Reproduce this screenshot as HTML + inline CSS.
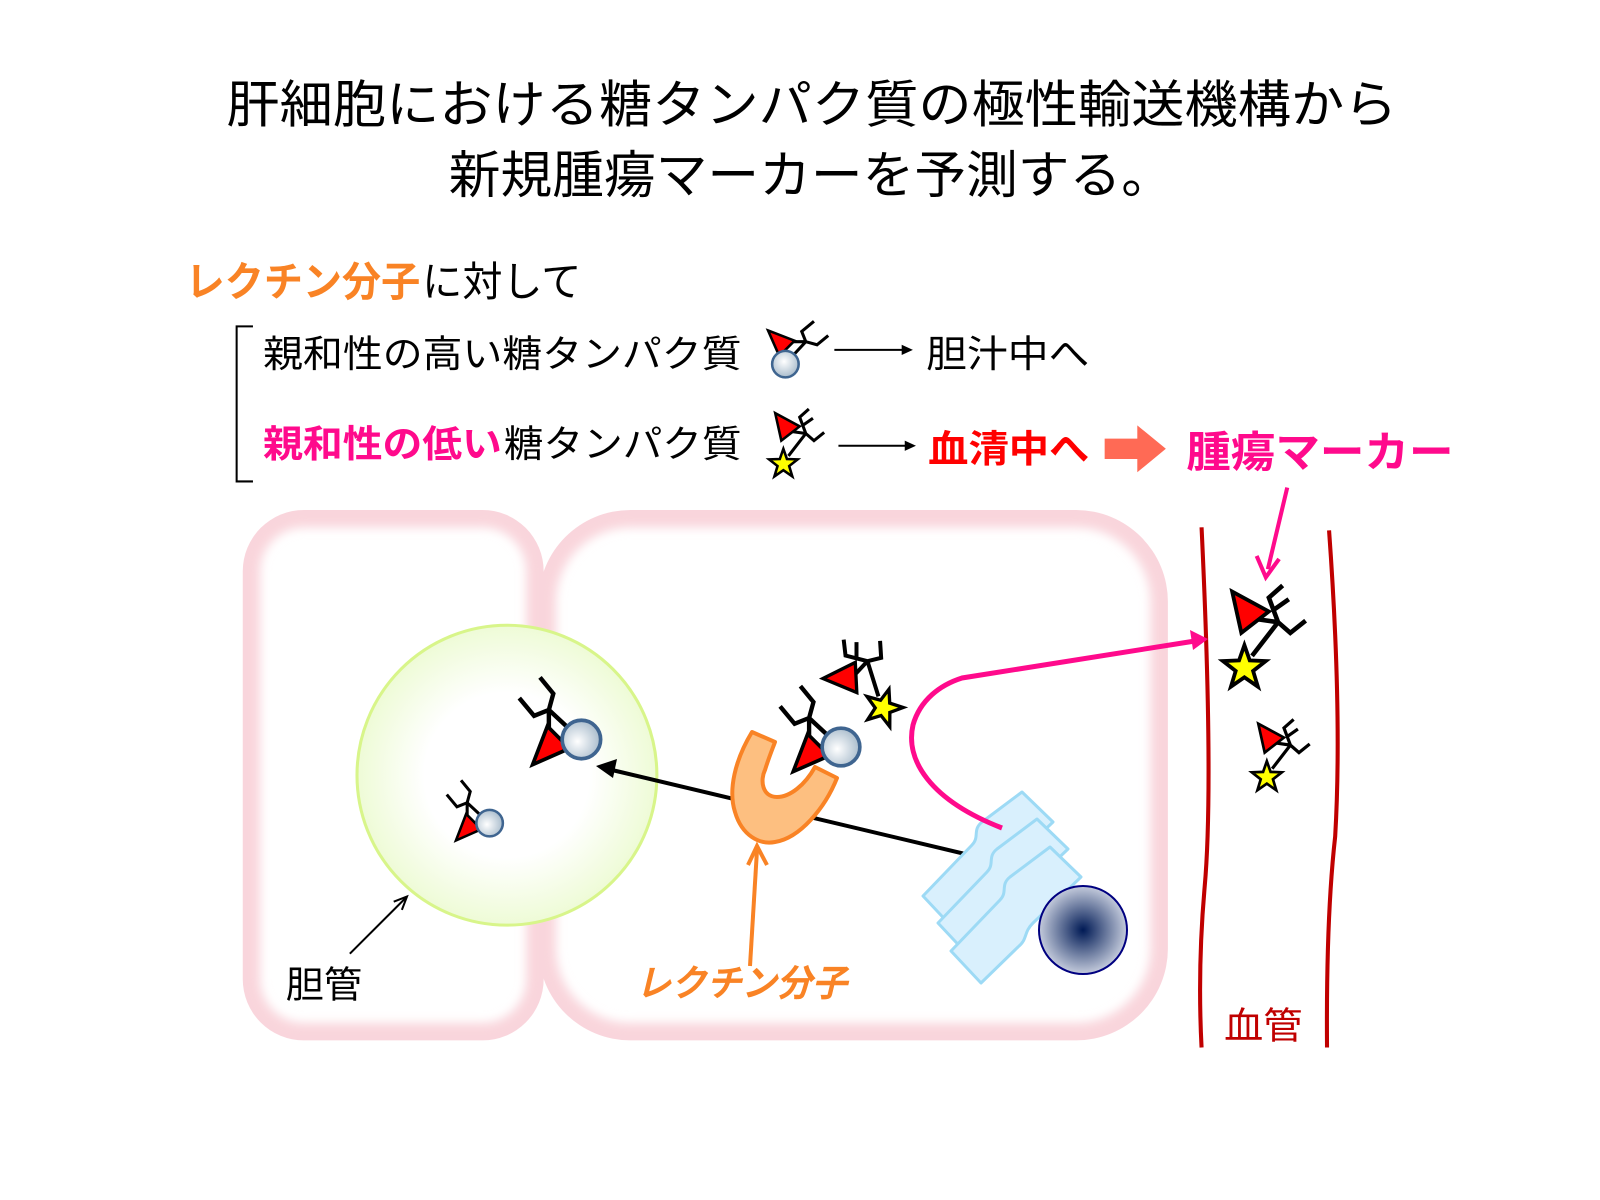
<!DOCTYPE html>
<html><head><meta charset="utf-8">
<style>
html,body{margin:0;padding:0;background:#fff;}
svg{display:block;}
text{font-family:"Liberation Sans","Noto Sans CJK JP",sans-serif;}
</style></head>
<body>
<svg width="1600" height="1200" viewBox="0 0 1600 1200" xmlns="http://www.w3.org/2000/svg">
<defs>
  <radialGradient id="bead" cx="45%" cy="40%" r="60%">
    <stop offset="0" stop-color="#ffffff"/><stop offset="1" stop-color="#a9bccc"/>
  </radialGradient>
  <radialGradient id="bile" cx="50%" cy="50%" r="50%">
    <stop offset="0.55" stop-color="#ffffff"/><stop offset="1" stop-color="#eefbd6"/>
  </radialGradient>
  <radialGradient id="nuc" cx="50%" cy="50%" r="50%">
    <stop offset="0" stop-color="#001a55"/><stop offset="1" stop-color="#c4cbdc"/>
  </radialGradient>
  <filter id="blur" x="-10%" y="-10%" width="120%" height="120%"><feGaussianBlur stdDeviation="5"/></filter>
  <clipPath id="c1"><rect x="238" y="500" width="295" height="520" rx="60"/></clipPath>
  <clipPath id="c2"><rect x="528" y="500" width="617" height="520" rx="90"/></clipPath>
  <g id="gc">
    <path d="M7,-8 L20,-22 M20,-22 L16,-32 L28,-42 M20,-22 L31,-19 L42,-28 M20,-22 L4,-22" stroke="#000" stroke-width="3" fill="none"/>
    <polygon points="-17,-33 9,-23 -6,-8" fill="#f00" stroke="#000" stroke-width="2.5"/>
    <circle cx="0" cy="0" r="13" fill="url(#bead)" stroke="#3f6590" stroke-width="2.5"/>
  </g>
  <g id="gs">
    <path d="M5,-8 L22,-30 L16,-46 L25,-54 M19,-38 L29,-45 M22,-30 L30,-23 L40,-31 M22,-30 L8,-32" stroke="#000" stroke-width="3" fill="none"/>
    <polygon points="-8,-50 16,-37 -2,-23" fill="#f00" stroke="#000" stroke-width="2.5"/>
    <polygon points="0,-15 3.5,-5 14,-4.6 5.7,1.9 8.8,12.1 0,6 -8.8,12.1 -5.7,1.9 -14,-4.6 -3.5,-5" fill="#ff0" stroke="#000" stroke-width="2.5"/>
  </g>
  <path id="band" d="M923,896 L972,845 C980,837 972,830 982,822 L1022,792 L1053,822 L1005,868 C995,878 1000,884 990,892 L953,928 Z"/>
</defs>
<g transform="scale(1.02)">
  <!-- cells -->
  <g clip-path="url(#c1)">
    <rect x="238" y="500" width="295" height="520" rx="60" fill="none" stroke="#f9d5dc" stroke-width="34" filter="url(#blur)"/>
  </g>
  <g clip-path="url(#c2)">
    <rect x="528" y="500" width="617" height="520" rx="90" fill="none" stroke="#f9d5dc" stroke-width="34" filter="url(#blur)"/>
  </g>

  <text x="222" y="120" font-size="50" textLength="1148" lengthAdjust="spacingAndGlyphs">肝細胞における糖タンパク質の極性輸送機構から</text>
  <text x="440" y="189" font-size="50" textLength="710" lengthAdjust="spacingAndGlyphs">新規腫瘍マーカーを予測する。</text>

  <text x="182" y="290" font-size="40" font-weight="bold" fill="#f98325" textLength="230" lengthAdjust="spacingAndGlyphs">レクチン分子</text>
  <text x="414" y="290" font-size="40" textLength="156" lengthAdjust="spacingAndGlyphs">に対して</text>

  <path d="M248,320 L232,320 L232,472 L248,472" stroke="#000" stroke-width="2" fill="none"/>
  <text x="258" y="360" font-size="37" textLength="469" lengthAdjust="spacingAndGlyphs">親和性の高い糖タンパク質</text>
  <text x="258" y="448" font-size="37" font-weight="bold" fill="#ff0a8c" textLength="234" lengthAdjust="spacingAndGlyphs">親和性の低い</text>
  <text x="494" y="448" font-size="37" textLength="233" lengthAdjust="spacingAndGlyphs">糖タンパク質</text>

  <use href="#gc" transform="translate(770,357)"/>
  <use href="#gs" transform="translate(768,455)"/>

  <line x1="818" y1="343" x2="885" y2="343" stroke="#000" stroke-width="2"/>
  <polygon points="895,343 884,338 884,348" fill="#000"/>
  <line x1="822" y1="437" x2="888" y2="437" stroke="#000" stroke-width="2"/>
  <polygon points="898,437 887,432 887,442" fill="#000"/>

  <text x="908" y="360" font-size="37" textLength="160" lengthAdjust="spacingAndGlyphs">胆汁中へ</text>
  <text x="910" y="453" font-size="37" font-weight="bold" fill="#ff0000" textLength="158" lengthAdjust="spacingAndGlyphs">血清中へ</text>
  <polygon points="1083,430 1115,430 1115,417 1143,440 1115,463 1115,450 1083,450" fill="#ff6a55"/>
  <text x="1163" y="458" font-size="42" font-weight="bold" fill="#ff0a8c" textLength="262" lengthAdjust="spacingAndGlyphs">腫瘍マーカー</text>

  <line x1="1262" y1="478" x2="1243" y2="558" stroke="#ff0a8c" stroke-width="4"/>
  <path d="M1232,545 L1241,566 L1254,548" stroke="#ff0a8c" stroke-width="4" fill="none"/>

  <circle cx="497" cy="760" r="147" fill="url(#bile)" stroke="#d8f58a" stroke-width="3"/>
  <use href="#gc" transform="translate(570,725) scale(1.45) rotate(-90)"/>
  <use href="#gc" transform="translate(480,807) rotate(-90)"/>

  <text x="280" y="978" font-size="36" textLength="75" lengthAdjust="spacingAndGlyphs">胆管</text>
  <line x1="343" y1="935" x2="398" y2="880" stroke="#000" stroke-width="2"/>
  <path d="M386,884 L399,879 L394,892" stroke="#000" stroke-width="2" fill="none"/>

  <path d="M1178,517 Q1190,770 1181,870 Q1174,950 1178,1027" stroke="#c00000" stroke-width="4" fill="none"/>
  <path d="M1303,520 Q1316,700 1309,820 Q1300,900 1301,1027" stroke="#c00000" stroke-width="4" fill="none"/>
  <text x="1200" y="1018" font-size="36" fill="#c00000" textLength="77" lengthAdjust="spacingAndGlyphs">血管</text>
  <use href="#gs" transform="translate(1220,655) scale(1.5)"/>
  <use href="#gs" transform="translate(1242,762) scale(1.05)"/>

  <use href="#gs" transform="translate(866,694) scale(1.3) rotate(-55)"/>
</g>

<line x1="982" y1="858" x2="612" y2="770" stroke="#000" stroke-width="4"/>
<polygon points="596,766 617,759 613,778" fill="#000"/>

<path d="M752,732 C735,760 728,790 735,812 C742,836 760,845 775,842 C800,838 825,808 837,778 L815,767 C805,785 790,797 777,797 C762,797 760,780 765,770 C768,760 772,750 775,742 Z" fill="#fdbf80" stroke="#f98325" stroke-width="4" stroke-linejoin="round"/>
<use href="#gc" transform="translate(841,747) scale(1.45) rotate(-90)"/>

<line x1="750" y1="966" x2="757" y2="850" stroke="#f98325" stroke-width="4"/>
<path d="M748,865 L757,846 L767,865" stroke="#f98325" stroke-width="4" fill="none"/>
<text x="636" y="996" font-size="37" font-weight="bold" font-style="italic" fill="#f98325" textLength="211" lengthAdjust="spacingAndGlyphs">レクチン分子</text>

<g fill="#d9f0fd" stroke="#9ddaf5" stroke-width="3" stroke-linejoin="round">
  <use href="#band"/>
  <use href="#band" transform="translate(15,27)"/>
  <use href="#band" transform="translate(28,55)"/>
</g>
<circle cx="1083" cy="930" r="44" fill="url(#nuc)" stroke="#000080" stroke-width="2"/>

<path d="M1002,828 C930,800 905,760 913,725 C920,700 940,685 962,678 L1195,641" stroke="#ff0a8c" stroke-width="5" fill="none"/>
<polygon points="1208,639 1190,630 1193,650" fill="#ff0a8c"/>
</svg>
</body></html>
